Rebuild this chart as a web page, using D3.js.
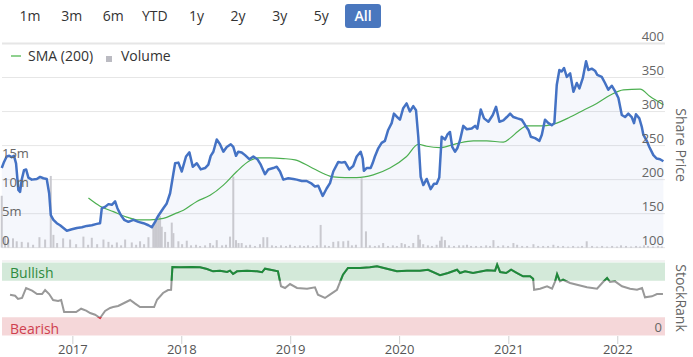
<!DOCTYPE html>
<html><head><meta charset="utf-8">
<script src="https://cdn.jsdelivr.net/npm/d3@7"></script>
<style>body{margin:0;background:#fff;} svg{display:block;font-family:"Open Sans",sans-serif;}</style>
</head><body><svg id="c" width="693" height="357"></svg>
<script>
const rangeButtons = ["1m","3m","6m","YTD","1y","2y","3y","5y","All"];
const activeButton = "All";
const priceTicks = [100,150,200,250,300,350,400];
const volumeTicks = [0,5,10,15];
const yearTicks = [2017,2018,2019,2020,2021,2022];

const priceT = [2016.349,2016.370,2016.394,2016.418,2016.440,2016.461,2016.480,2016.501,2016.517,2016.532,
2016.553,2016.572,2016.593,2016.624,2016.670,2016.700,2016.730,2016.761,2016.783,2016.798,
2016.822,2016.853,2016.883,2016.914,2016.945,2016.991,2017.037,2017.083,2017.128,2017.174,
2017.220,2017.250,2017.266,2017.296,2017.327,2017.358,2017.388,2017.409,2017.440,2017.471,
2017.510,2017.556,2017.602,2017.648,2017.694,2017.725,2017.755,2017.785,2017.831,2017.862,
2017.893,2017.923,2017.939,2017.969,2018.000,2018.039,2018.070,2018.101,2018.138,2018.174,
2018.214,2018.244,2018.266,2018.290,2018.321,2018.351,2018.382,2018.413,2018.450,2018.473,
2018.498,2018.519,2018.550,2018.581,2018.620,2018.657,2018.694,2018.725,2018.764,2018.794,
2018.840,2018.872,2018.902,2018.932,2018.978,2019.024,2019.055,2019.101,2019.147,2019.193,
2019.223,2019.253,2019.294,2019.330,2019.361,2019.391,2019.437,2019.468,2019.498,2019.538,
2019.574,2019.606,2019.642,2019.661,2019.672,2019.697,2019.734,2019.752,2019.773,2019.804,
2019.835,2019.865,2019.895,2019.927,2019.948,2019.978,2020.003,2020.033,2020.064,2020.094,
2020.125,2020.150,2020.171,2020.193,2020.217,2020.248,2020.284,2020.315,2020.339,2020.363,
2020.385,2020.416,2020.437,2020.461,2020.482,2020.507,2020.528,2020.553,2020.583,2020.615,
2020.660,2020.691,2020.712,2020.743,2020.773,2020.813,2020.853,2020.883,2020.914,2020.950,
2020.982,2021.012,2021.042,2021.079,2021.119,2021.150,2021.180,2021.202,2021.241,2021.281,
2021.303,2021.332,2021.363,2021.394,2021.418,2021.440,2021.464,2021.486,2021.507,2021.532,
2021.563,2021.593,2021.624,2021.648,2021.679,2021.709,2021.730,2021.761,2021.791,2021.812,
2021.853,2021.883,2021.913,2021.945,2021.975,2022.006,2022.037,2022.067,2022.097,2022.128,
2022.149,2022.167,2022.198,2022.220,2022.235,2022.266,2022.290,2022.327,2022.358,2022.388,2022.419];
const price = [217,226,234,235,233,235,224,185,182,200,
214,215,203,200,201,204,202,201,180,148,
141,136,133,129,125,127,129,130,132,133,
135,136,158,160,164,163,168,158,148,141,
138,141,138,136,133,130,138,147,158,165,
180,209,224,225,212,234,240,219,224,215,
217,222,235,241,259,252,241,248,252,248,
235,241,240,236,230,234,230,222,208,215,
217,219,212,200,202,201,200,198,198,194,
190,191,176,187,195,212,226,225,226,215,
220,234,241,231,213,217,217,224,234,246,
254,257,273,283,297,292,288,305,312,300,
308,302,263,204,192,201,186,194,194,203,
263,259,266,270,248,241,246,258,279,274,
275,279,275,303,290,285,295,307,285,287,
292,297,292,290,288,280,273,263,261,257,
266,288,283,280,283,339,361,359,364,351,
356,329,342,334,349,374,361,363,360,354,
351,342,332,338,330,320,295,292,297,292,
283,296,290,278,266,257,248,236,231,230,227];

const smaT = [2017.143,2017.250,2017.372,2017.495,2017.587,2017.709,2017.831,2017.939,2018.015,2018.138,
2018.260,2018.382,2018.505,2018.627,2018.703,2018.810,2018.932,2019.039,2019.177,2019.299,
2019.391,2019.498,2019.606,2019.758,2019.911,2020.064,2020.171,2020.248,2020.370,2020.523,
2020.675,2020.798,2020.950,2021.012,2021.085,2021.166,2021.318,2021.440,2021.563,2021.685,
2021.807,2021.929,2022.052,2022.205,2022.297,2022.419];
const sma = [173,161,153,145,141,141,143,150,155,168,
177,192,212,228,232,232,231,229,219,209,
204,203,203,207,217,234,252,249,247,253,
257,257,255,261,271,279,279,283,292,302,
312,324,332,333,322,310];

const volT = [2016.349,2016.379,2016.409,2016.452,2016.486,2016.532,2016.590,2016.636,2016.694,2016.746,
2016.798,2016.822,2016.856,2016.911,2016.975,2017.030,2017.097,2017.140,2017.174,2017.223,
2017.281,2017.327,2017.360,2017.404,2017.443,2017.480,2017.541,2017.581,2017.617,2017.654,
2017.694,2017.739,2017.755,2017.771,2017.785,2017.801,2017.816,2017.847,2017.874,2017.908,
2017.923,2017.969,2018.003,2018.046,2018.085,2018.131,2018.168,2018.214,2018.260,2018.287,
2018.321,2018.370,2018.406,2018.443,2018.473,2018.498,2018.521,2018.550,2018.590,2018.627,
2018.672,2018.718,2018.749,2018.785,2018.828,2018.865,2018.911,2018.957,2018.994,2019.039,
2019.085,2019.122,2019.159,2019.204,2019.241,2019.275,2019.315,2019.351,2019.391,2019.437,
2019.483,2019.528,2019.562,2019.599,2019.651,2019.691,2019.727,2019.773,2019.810,2019.849,
2019.893,2019.938,2019.975,2020.018,2020.049,2020.085,2020.125,2020.171,2020.186,2020.216,
2020.259,2020.296,2020.339,2020.370,2020.385,2020.415,2020.452,2020.498,2020.544,2020.583,
2020.617,2020.654,2020.700,2020.746,2020.792,2020.828,2020.859,2020.902,2020.948,2020.993,
2021.042,2021.076,2021.122,2021.168,2021.226,2021.269,2021.315,2021.360,2021.409,2021.452,
2021.498,2021.544,2021.590,2021.636,2021.672,2021.715,2021.764,2021.810,2021.856,2021.902,
2021.948,2021.993,2022.030,2022.076,2022.122,2022.168,2022.204,2022.241,2022.278,2022.324,
2022.370,2022.406];
const vol = [8.9,1.9,1.4,1.6,1.1,1.0,0.9,0.5,1.8,1.4,
12.3,2.2,0.8,1.6,1.4,0.6,1.9,0.5,1.7,0.6,
1.4,1.0,0.5,0.9,0.4,1.4,0.9,0.5,1.1,0.6,
1.8,3.6,4.5,5.3,4.8,5.4,3.6,2.7,1.0,4.3,
2.5,1.1,0.6,1.2,0.4,0.5,0.3,0.4,0.8,0.4,
1.3,0.4,0.5,1.9,12.2,1.3,0.8,0.8,0.4,0.5,
0.3,0.6,1.8,1.8,0.4,0.3,0.4,0.3,0.5,0.3,
0.4,0.3,0.4,0.3,0.4,3.9,0.4,0.3,1.0,1.1,
1.1,1.2,0.4,0.5,11.9,2.8,0.4,0.3,0.4,0.8,
0.3,0.4,0.3,0.8,0.6,0.3,0.8,2.2,1.4,0.6,
0.4,0.3,0.5,1.2,1.9,1.3,0.4,0.3,0.4,0.4,
0.5,0.3,0.3,0.3,0.4,0.3,1.3,0.3,0.4,0.3,
0.8,0.5,0.3,0.3,0.6,0.3,0.3,0.3,0.5,0.3,
0.3,0.2,0.3,0.2,0.3,1.1,0.3,0.2,0.3,0.2,
0.3,0.2,0.4,0.3,0.2,0.3,0.2,0.4,0.3,0.2,
0.3,0.2];

const rankT = [2016.425,2016.471,2016.498,2016.535,2016.572,2016.627,2016.672,2016.718,2016.746,2016.783,
2016.819,2016.865,2016.893,2016.920,2016.975,2017.030,2017.076,2017.122,2017.159,2017.204,
2017.250,2017.296,2017.342,2017.370,2017.416,2017.471,2017.526,2017.572,2017.617,2017.682,
2017.746,2017.773,2017.828,2017.874,2017.902,2017.914,2017.984,2018.094,2018.168,2018.232,
2018.287,2018.351,2018.416,2018.443,2018.471,2018.507,2018.599,2018.691,2018.737,2018.764,
2018.837,2018.883,2018.911,2018.948,2018.994,2019.058,2019.150,2019.223,2019.250,2019.315,
2019.360,2019.425,2019.480,2019.526,2019.636,2019.727,2019.792,2019.883,2019.975,2020.067,
2020.186,2020.260,2020.370,2020.443,2020.526,2020.553,2020.599,2020.672,2020.801,2020.874,
2020.893,2020.920,2020.975,2021.021,2021.076,2021.131,2021.195,2021.223,2021.232,2021.287,
2021.351,2021.397,2021.425,2021.443,2021.470,2021.498,2021.562,2021.626,2021.718,2021.810,
2021.865,2021.902,2021.929,2021.975,2022.039,2022.113,2022.177,2022.223,2022.250,2022.314,
2022.360,2022.415];
const rank = [55.9,54.5,50.0,51.4,65.1,61.4,56.8,56.8,62.3,56.8,
48.6,47.3,48.6,32.2,32.2,32.2,36.7,34.0,30.8,28.5,
24.0,33.6,37.7,39.0,40.4,44.5,48.6,43.6,39.0,39.0,
39.0,49.0,58.2,62.3,62.7,93.8,93.4,93.8,93.4,91.1,
87.9,88.8,87.0,88.8,84.2,87.9,88.8,87.9,86.6,91.5,
89.3,87.9,67.4,65.1,70.5,65.1,64.1,66.0,55.9,51.4,
55.9,62.7,83.3,92.5,92.5,93.4,94.8,91.5,87.9,88.8,
88.8,90.1,82.5,85.6,90.1,85.6,87.9,85.6,89.3,88.8,
97.0,87.0,85.6,90.1,85.6,81.1,81.1,77.8,62.7,64.1,
67.4,64.1,74.2,84.2,74.2,76.4,71.9,69.6,66.0,64.1,
73.3,78.8,73.3,74.2,67.4,64.1,62.7,65.1,52.3,53.7,
56.8,56.8];

function yd(y){const yr=Math.floor(y);const s=Date.UTC(yr,0,1),e=Date.UTC(yr+1,0,1);return new Date(s+(y-yr)*(e-s));}

const svg = d3.select("#c");
const W = 693;
const plotR = 665;
const x = d3.scaleUtc().domain([yd(2016.333), yd(2022.42)]).range([0, 663.5]);
const yP = d3.scaleLinear().domain([100,400]).range([247.7,43.5]);
const yV = d3.scaleLinear().domain([0,35]).range([247.7,43.5]);
const yR = d3.scaleLinear().domain([0,100]).range([335.5,262.5]);

// range selector buttons
const bx = d3.scalePoint().domain(rangeButtons).range([30,363]);
const btn = svg.append("g");
btn.selectAll("rect").data(rangeButtons.filter(d=>d===activeButton)).join("rect")
  .attr("x",d=>bx(d)-18).attr("y",4).attr("width",36).attr("height",24).attr("rx",3)
  .attr("fill","#4a77be");
btn.selectAll("text").data(rangeButtons).join("text")
  .attr("x",d=>bx(d)).attr("y",21).attr("text-anchor","middle")
  .attr("font-size",14).attr("fill",d=>d===activeButton?"#fff":"#333")
  .attr("font-weight",d=>d===activeButton?600:400).text(d=>d);

// price gridlines
svg.append("g").selectAll("line").data(priceTicks).join("line")
  .attr("x1",2).attr("x2",plotR).attr("y1",d=>yP(d)).attr("y2",d=>yP(d))
  .attr("stroke","#e6e6e6").attr("stroke-width",d=>d===400?2:1);

// legend
const lg = svg.append("g");
lg.append("line").attr("x1",11).attr("x2",21).attr("y1",56).attr("y2",56).attr("stroke","#8fd18f").attr("stroke-width",2);
lg.append("text").attr("x",28).attr("y",61).attr("font-size",14).attr("fill","#333").text("SMA (200)");
lg.append("rect").attr("x",106).attr("y",56).attr("width",6).attr("height",6).attr("fill","#bbbbc2");
lg.append("text").attr("x",121).attr("y",61).attr("font-size",14).attr("fill","#333").text("Volume");

// price area
const pts = priceT.map((t,i)=>({t:yd(t),v:price[i]}));
svg.append("path").datum(pts)
  .attr("d",d3.area().x(d=>x(d.t)).y0(yP(100)).y1(d=>yP(d.v)))
  .attr("fill","rgba(69,114,196,0.055)");

// volume bars
const vpts = volT.map((t,i)=>({t:yd(t),v:vol[i]}));
svg.append("g").selectAll("rect").data(vpts).join("rect")
  .attr("x",d=>x(d.t)-1).attr("width",2)
  .attr("y",d=>yV(d.v)).attr("height",d=>yV(0)-yV(d.v))
  .attr("fill","#c9c9cf");

// SMA
const spts = smaT.map((t,i)=>({t:yd(t),v:sma[i]}));
svg.append("path").datum(spts)
  .attr("d",d3.line().x(d=>x(d.t)).y(d=>yP(d.v)).curve(d3.curveMonotoneX))
  .attr("fill","none").attr("stroke","#4caf50").attr("stroke-width",1.2);

// price line
svg.append("path").datum(pts)
  .attr("d",d3.line().x(d=>x(d.t)).y(d=>yP(d.v)))
  .attr("fill","none").attr("stroke","#4472c4").attr("stroke-width",2.5).attr("stroke-linejoin","round");

// price axis labels
svg.append("g").selectAll("text").data(priceTicks).join("text")
  .attr("x",664).attr("y",d=>yP(d)-2.5).attr("text-anchor","end")
  .attr("font-size",13).attr("fill","#666").text(d=>d);
// volume axis labels
svg.append("g").selectAll("text").data(volumeTicks).join("text")
  .attr("x",2).attr("y",d=>yV(d)-2.5).attr("text-anchor","start")
  .attr("font-size",13).attr("fill","#666").text(d=>d===0?"0":d+"m");

svg.append("text").attr("transform","translate(676,145) rotate(90)")
  .attr("text-anchor","middle").attr("font-size",14).attr("fill","#666").text("Share Price");

// StockRank panel
svg.append("line").attr("x1",2).attr("x2",plotR).attr("y1",261).attr("y2",261).attr("stroke","#e6e6e6");
svg.append("rect").attr("x",2).attr("width",plotR-2).attr("y",yR(100)).attr("height",yR(75)-yR(100)).attr("fill","#d3e9d9");
svg.append("rect").attr("x",2).attr("width",plotR-2).attr("y",yR(25)).attr("height",yR(0)-yR(25)).attr("fill","#f5d7d9");
svg.append("text").attr("x",10).attr("y",278).attr("font-size",14).attr("fill","#2e8b3e").text("Bullish");
svg.append("text").attr("x",10).attr("y",334).attr("font-size",14).attr("fill","#cf3f4f").text("Bearish");
svg.append("text").attr("x",662).attr("y",332).attr("text-anchor","end").attr("font-size",13).attr("fill","#666").text("0");
svg.append("text").attr("transform","translate(676,298) rotate(90)")
  .attr("text-anchor","middle").attr("font-size",14).attr("fill","#666").text("StockRank");

const defs = svg.append("defs");
defs.append("clipPath").attr("id","cg").append("rect").attr("x",0).attr("width",W).attr("y",0).attr("height",yR(75));
defs.append("clipPath").attr("id","cr").append("rect").attr("x",0).attr("width",W).attr("y",yR(25)).attr("height",40);
const rpts = rankT.map((t,i)=>({t:yd(t),v:rank[i]}));
const rl = d3.line().x(d=>x(d.t)).y(d=>yR(d.v));
svg.append("path").datum(rpts).attr("d",rl).attr("fill","none").attr("stroke","#999").attr("stroke-width",2);
svg.append("path").datum(rpts).attr("d",rl).attr("fill","none").attr("stroke","#1e8a3a").attr("stroke-width",2).attr("clip-path","url(#cg)");
svg.append("path").datum(rpts).attr("d",rl).attr("fill","none").attr("stroke","#e03040").attr("stroke-width",2).attr("clip-path","url(#cr)");

// x axis
const xa = svg.append("g");
xa.selectAll("line").data(yearTicks).join("line")
  .attr("x1",d=>x(yd(d))).attr("x2",d=>x(yd(d))).attr("y1",336).attr("y2",344)
  .attr("stroke","#d0d0d0");
xa.selectAll("text").data(yearTicks).join("text")
  .attr("x",d=>x(yd(d))).attr("y",354).attr("text-anchor","middle")
  .attr("font-size",13).attr("fill","#555").text(d=>d);
</script></body></html>
